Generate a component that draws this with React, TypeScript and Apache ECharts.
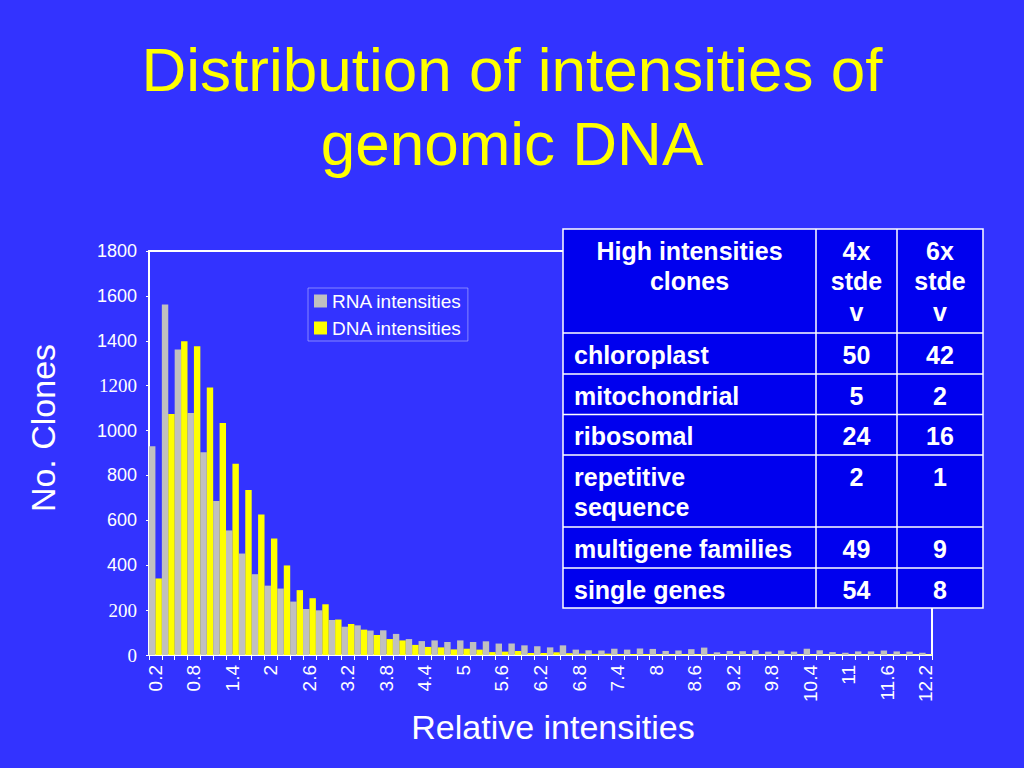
import React, { useEffect, useRef } from "react";
import * as echarts from "echarts";

const categories = [
  "0.2", "0.4", "0.6", "0.8", "1", "1.2", "1.4", "1.6", "1.8", "2",
  "2.2", "2.4", "2.6", "2.8", "3", "3.2", "3.4", "3.6", "3.8", "4",
  "4.2", "4.4", "4.6", "4.8", "5", "5.2", "5.4", "5.6", "5.8", "6",
  "6.2", "6.4", "6.6", "6.8", "7", "7.2", "7.4", "7.6", "7.8", "8",
  "8.2", "8.4", "8.6", "8.8", "9", "9.2", "9.4", "9.6", "9.8", "10",
  "10.2", "10.4", "10.6", "10.8", "11", "11.2", "11.4", "11.6", "11.8", "12",
  "12.2",
];

const rnaValues = [
  930, 1562, 1361, 1078, 903, 686, 555, 452, 360, 309,
  296, 238, 205, 199, 156, 126, 132, 109, 110, 94,
  71, 62, 65, 58, 65, 58, 61, 51, 51, 43,
  39, 34, 43, 24, 21, 20, 28, 24, 29, 27,
  18, 20, 26, 33, 12, 18, 17, 21, 15, 20,
  15, 28, 21, 13, 10, 16, 16, 20, 16, 15,
  10,
];

const dnaValues = [
  341, 1074, 1398, 1376, 1192, 1034, 852, 735, 626, 519,
  399, 289, 253, 226, 158, 138, 113, 89, 71, 65,
  45, 36, 34, 25, 28, 24, 13, 15, 18, 9,
  9, 12, 8, 6, 5, 6, 4, 4, 4, 3,
  3, 3, 3, 3, 2, 3, 2, 2, 2, 2,
  2, 2, 2, 2, 2, 2, 2, 2, 2, 2,
  2,
];

const seriesNames = ["RNA intensities", "DNA intensities"];
const serifTicks = [0, 200, 1200];
const titleLines = ["Distribution of intensities of", "genomic DNA"];

const tableHeader = [["High intensities", "clones"], ["4x", "stde", "v"], ["6x", "stde", "v"]];
const tableRows = [
  [["chloroplast"], ["50"], ["42"]],
  [["mitochondrial"], ["5"], ["2"]],
  [["ribosomal"], ["24"], ["16"]],
  [["repetitive", "sequence"], ["2"], ["1"]],
  [["multigene families"], ["49"], ["9"]],
  [["single genes"], ["54"], ["8"]],
];

const SANS = "Liberation Sans, Arial, Helvetica, sans-serif";
const SERIF = "Liberation Serif, Times New Roman, serif";

export default function App() {
  const ref = useRef<HTMLDivElement>(null);

  useEffect(() => {
    if (!ref.current) return;
    const chart = echarts.init(ref.current, null, { renderer: "svg" });

    const colX = [563, 816, 897, 983];
    const rowY = [229, 333, 374, 414.5, 455, 527, 568, 608];
    const firstLineOffset = 21.5;
    const lineStep = 30.5;
    const tableEls: any[] = [];
    tableEls.push({
      type: "rect",
      z: 100,
      shape: { x: colX[0], y: rowY[0], width: colX[3] - colX[0], height: rowY[rowY.length - 1] - rowY[0] },
      style: { fill: "#0000EE", stroke: "#FFFFFF", lineWidth: 1.5 },
    });
    for (let i = 1; i < rowY.length - 1; i++) {
      tableEls.push({
        type: "line",
        z: 101,
        shape: { x1: colX[0], y1: rowY[i], x2: colX[3], y2: rowY[i] },
        style: { stroke: "#FFFFFF", lineWidth: 1.5 },
      });
    }
    for (let j = 1; j < colX.length - 1; j++) {
      tableEls.push({
        type: "line",
        z: 101,
        shape: { x1: colX[j], y1: rowY[0], x2: colX[j], y2: rowY[rowY.length - 1] },
        style: { stroke: "#FFFFFF", lineWidth: 1.5 },
      });
    }
    const allRows = [tableHeader, ...tableRows];
    allRows.forEach((row, ri) => {
      row.forEach((cell, ci) => {
        cell.forEach((line, li) => {
          const isLeft = ci === 0 && ri > 0;
          const x = isLeft ? colX[0] + 11 : (colX[ci] + colX[ci + 1]) / 2;
          tableEls.push({
            type: "text",
            z: 102,
            x,
            y: rowY[ri] + firstLineOffset + li * lineStep,
            style: {
              text: line,
              fill: "#FFFFFF",
              fontSize: 25,
              fontWeight: "bold",
              fontFamily: SANS,
              textAlign: isLeft ? "left" : "center",
              textVerticalAlign: "middle",
            },
          });
        });
      });
    });

    const titleEls = titleLines.map((t, i) => ({
      type: "text",
      z: 100,
      x: 512,
      y: 69.5 + i * 73.5,
      style: {
        text: t,
        fill: "#FFFF00",
        fontSize: 62,
        fontFamily: SANS,
        textAlign: "center",
        textVerticalAlign: "middle",
      },
    }));

    const option: any = {
      animation: false,
      backgroundColor: "#3333FF",
      legend: {
        orient: "vertical",
        left: 308,
        top: 288,
        padding: [2, 6, 2, 6],
        itemGap: 5,
        itemWidth: 13,
        itemHeight: 13,
        icon: "rect",
        borderColor: "rgba(170,170,255,0.7)",
        borderWidth: 1,
        data: seriesNames,
        textStyle: { color: "#FFFFFF", fontSize: 19, lineHeight: 22, fontFamily: SANS },
      },
      grid: {
        left: 149,
        right: 92,
        top: 251,
        bottom: 113,
        show: true,
        borderColor: "#FFFFFF",
        borderWidth: 2,
        backgroundColor: "transparent",
      },
      xAxis: {
        type: "category",
        data: categories,
        axisLine: { lineStyle: { color: "#FFFFFF", width: 2 } },
        axisTick: { show: true, interval: 0, length: 5, lineStyle: { color: "#FFFFFF" } },
        axisLabel: {
          interval: 2,
          rotate: 90,
          color: "#FFFFFF",
          fontSize: 19,
          fontFamily: SANS,
          margin: 10,
        },
        splitLine: { show: false },
      },
      yAxis: {
        type: "value",
        min: 0,
        max: 1800,
        interval: 200,
        axisLine: { show: true, lineStyle: { color: "#FFFFFF", width: 2 } },
        axisTick: { show: true, length: 3, lineStyle: { color: "#FFFFFF" } },
        splitLine: { show: false },
        axisLabel: {
          margin: 12,
          color: "#FFFFFF",
          fontSize: 18,
          fontFamily: SANS,
          formatter: (v: any) => (serifTicks.includes(Number(v)) ? "{s|" + v + "}" : "{n|" + v + "}"),
          rich: {
            n: { color: "#FFFFFF", fontSize: 18, fontFamily: SANS },
            s: { color: "#FFFFFF", fontSize: 19, fontFamily: SERIF },
          },
        },
      },
      series: [
        {
          name: seriesNames[0],
          type: "bar",
          data: rnaValues,
          barGap: "0%",
          barCategoryGap: "0%",
          itemStyle: { color: "#C0C0C0" },
        },
        {
          name: seriesNames[1],
          type: "bar",
          data: dnaValues,
          barGap: "0%",
          barCategoryGap: "0%",
          itemStyle: { color: "#FFFF00" },
        },
      ],
      graphic: [
        ...titleEls,
        {
          type: "text",
          z: 100,
          x: 43,
          y: 428,
          rotation: Math.PI / 2,
          style: {
            text: "No. Clones",
            fill: "#FFFFFF",
            fontSize: 34,
            fontFamily: SANS,
            textAlign: "center",
            textVerticalAlign: "middle",
          },
        },
        {
          type: "text",
          z: 100,
          x: 553,
          y: 727,
          style: {
            text: "Relative intensities",
            fill: "#FFFFFF",
            fontSize: 34,
            fontFamily: SANS,
            textAlign: "center",
            textVerticalAlign: "middle",
          },
        },
        ...tableEls,
      ],
    };

    chart.setOption(option);
    return () => chart.dispose();
  }, []);

  return (
    <div
      ref={ref}
      style={{ position: "fixed", left: 0, top: 0, width: 1024, height: 768, background: "#3333FF" }}
    />
  );
}
